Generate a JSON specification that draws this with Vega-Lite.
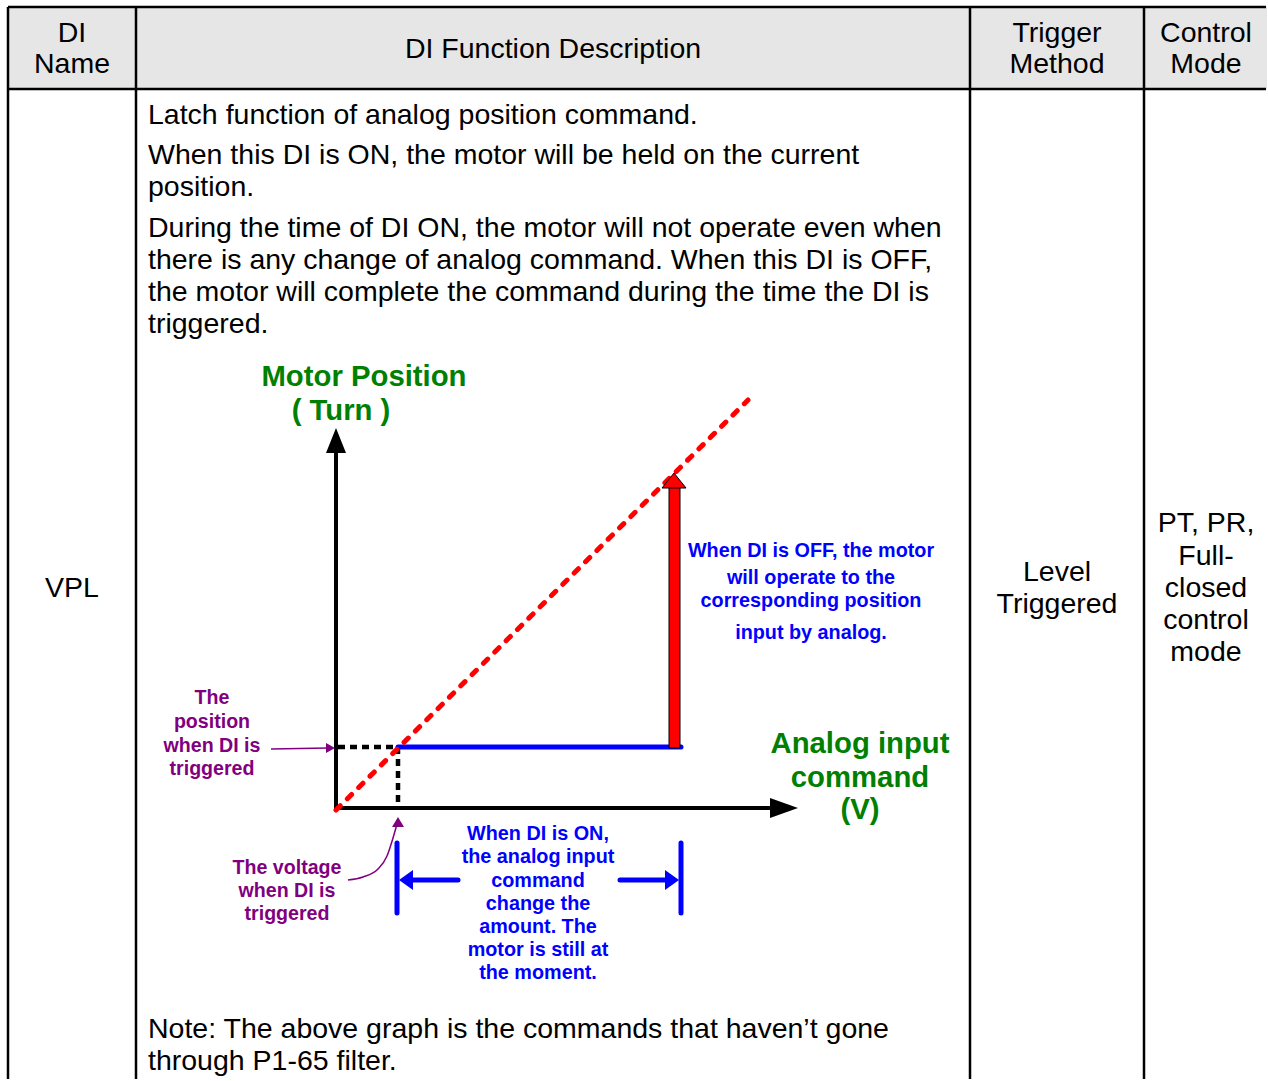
{
  "$schema": "https://vega.github.io/schema/vega-lite/v6.json",
  "width": 1268,
  "height": 1081,
  "autosize": {"type": "fit", "contains": "padding"},
  "padding": 0,
  "background": "white",
  "config": {"view": {"stroke": null}},
  "encoding": {
    "x": {"field": "x", "type": "quantitative", "scale": {"domain": [0, 1268], "nice": false, "zero": false}, "axis": null},
    "y": {"field": "y", "type": "quantitative", "scale": {"domain": [0, 1081], "nice": false, "zero": false, "reverse": true}, "axis": null}
  },
  "layer": [
    {
      "data": {"values": [{"x": 8, "y": 7, "x2": 1267, "y2": 89}]},
      "mark": {"type": "rect", "color": "#e6e6e6"},
      "encoding": {"x2": {"field": "x2"}, "y2": {"field": "y2"}}
    },
    {
      "data": {"values": [
        {"x": 8, "y": 7, "x2": 1266, "y2": 7},
        {"x": 8, "y": 89, "x2": 1266, "y2": 89},
        {"x": 8, "y": 7, "x2": 8, "y2": 1079},
        {"x": 136, "y": 7, "x2": 136, "y2": 1079},
        {"x": 970, "y": 7, "x2": 970, "y2": 1079},
        {"x": 1144, "y": 7, "x2": 1144, "y2": 1079}
      ]},
      "mark": {"type": "rule", "color": "black", "strokeWidth": 2.5},
      "encoding": {"x2": {"field": "x2"}, "y2": {"field": "y2"}}
    },
    {
      "data": {"values": [
        {"x": 148, "y": 115, "t": "Latch function of analog position command."},
        {"x": 148, "y": 155, "t": "When this DI is ON, the motor will be held on the current"},
        {"x": 148, "y": 187, "t": "position."},
        {"x": 148, "y": 228, "t": "During the time of DI ON, the motor will not operate even when"},
        {"x": 148, "y": 260, "t": "there is any change of analog command. When this DI is OFF,"},
        {"x": 148, "y": 292, "t": "the motor will complete the command during the time the DI is"},
        {"x": 148, "y": 324, "t": "triggered."},
        {"x": 148, "y": 1029, "t": "Note: The above graph is the commands that haven’t gone"},
        {"x": 148, "y": 1061, "t": "through P1-65 filter."}
      ]},
      "mark": {"type": "text", "align": "left", "baseline": "middle", "font": "Liberation Sans", "fontSize": 28.5, "color": "black"},
      "encoding": {"text": {"field": "t"}}
    },
    {
      "data": {"values": [
        {"x": 72, "y": 33, "t": "DI"},
        {"x": 72, "y": 64, "t": "Name"},
        {"x": 553, "y": 49, "t": "DI Function Description"},
        {"x": 1057, "y": 33, "t": "Trigger"},
        {"x": 1057, "y": 64, "t": "Method"},
        {"x": 1206, "y": 33, "t": "Control"},
        {"x": 1206, "y": 64, "t": "Mode"},
        {"x": 72, "y": 588, "t": "VPL"},
        {"x": 1057, "y": 572, "t": "Level"},
        {"x": 1057, "y": 604, "t": "Triggered"},
        {"x": 1206, "y": 523, "t": "PT, PR,"},
        {"x": 1206, "y": 556, "t": "Full-"},
        {"x": 1206, "y": 588, "t": "closed"},
        {"x": 1206, "y": 620, "t": "control"},
        {"x": 1206, "y": 652, "t": "mode"}
      ]},
      "mark": {"type": "text", "align": "center", "baseline": "middle", "font": "Liberation Sans", "fontSize": 28.5, "color": "black"},
      "encoding": {"text": {"field": "t"}}
    },
    {
      "data": {"values": [
        {"x": 336, "y": 452, "x2": 336, "y2": 810},
        {"x": 334, "y": 808, "x2": 772, "y2": 808}
      ]},
      "mark": {"type": "rule", "color": "black", "strokeWidth": 4},
      "encoding": {"x2": {"field": "x2"}, "y2": {"field": "y2"}}
    },
    {
      "data": {"values": [
        {"x": 338, "y": 747, "x2": 398, "y2": 747},
        {"x": 398, "y": 747, "x2": 398, "y2": 806}
      ]},
      "mark": {"type": "rule", "color": "black", "strokeWidth": 4.5, "strokeDash": [7, 5]},
      "encoding": {"x2": {"field": "x2"}, "y2": {"field": "y2"}}
    },
    {
      "data": {"values": [
        {"x": 398, "y": 747, "x2": 681, "y2": 747},
        {"x": 397, "y": 843, "x2": 397, "y2": 913},
        {"x": 681, "y": 843, "x2": 681, "y2": 913},
        {"x": 410, "y": 880, "x2": 458, "y2": 880},
        {"x": 620, "y": 880, "x2": 668, "y2": 880}
      ]},
      "mark": {"type": "rule", "color": "#0000ff", "strokeWidth": 5, "strokeCap": "round"},
      "encoding": {"x2": {"field": "x2"}, "y2": {"field": "y2"}}
    },
    {
      "data": {"values": [{"x": 336, "y": 810, "x2": 748, "y2": 400}]},
      "mark": {"type": "rule", "color": "#ff0000", "strokeWidth": 5, "strokeDash": [6, 10], "strokeCap": "round"},
      "encoding": {"x2": {"field": "x2"}, "y2": {"field": "y2"}}
    },
    {
      "data": {"values": [{"x": 669, "y": 487, "x2": 680, "y2": 748}]},
      "mark": {"type": "rect", "color": "#ff0000", "stroke": "black", "strokeWidth": 1},
      "encoding": {"x2": {"field": "x2"}, "y2": {"field": "y2"}}
    },
    {
      "data": {"values": [{"x": 271, "y": 749, "x2": 328, "y2": 748}]},
      "mark": {"type": "rule", "color": "#800080", "strokeWidth": 1.5},
      "encoding": {"x2": {"field": "x2"}, "y2": {"field": "y2"}}
    },
    {
      "data": {"values": [
        {"x": 348, "y": 880},
        {"x": 363, "y": 877},
        {"x": 378, "y": 869},
        {"x": 387, "y": 856},
        {"x": 393, "y": 838},
        {"x": 397, "y": 824}
      ]},
      "mark": {"type": "line", "color": "#800080", "strokeWidth": 1.5, "interpolate": "monotone"},
      "encoding": {}
    },
    {
      "data": {"values": [{"x": 336, "y": 428}]},
      "mark": {"type": "point", "shape": "M0,0L-10,25L10,25Z", "size": 4, "filled": true, "opacity": 1, "color": "black"},
      "encoding": {}
    },
    {
      "data": {"values": [{"x": 798, "y": 808}]},
      "mark": {"type": "point", "shape": "M0,0L-28,-10L-28,10Z", "size": 4, "filled": true, "opacity": 1, "color": "black"},
      "encoding": {}
    },
    {
      "data": {"values": [{"x": 674, "y": 473}]},
      "mark": {"type": "point", "shape": "M0,0L-12,15L12,15Z", "size": 4, "filled": true, "opacity": 1, "fill": "#ff0000", "stroke": "black", "strokeWidth": 1},
      "encoding": {}
    },
    {
      "data": {"values": [{"x": 335, "y": 748}]},
      "mark": {"type": "point", "shape": "M0,0L-9,-5L-9,5Z", "size": 4, "filled": true, "opacity": 1, "color": "#800080"},
      "encoding": {}
    },
    {
      "data": {"values": [{"x": 398, "y": 817}]},
      "mark": {"type": "point", "shape": "M0,0L-6,10L6,10Z", "size": 4, "filled": true, "opacity": 1, "color": "#800080"},
      "encoding": {}
    },
    {
      "data": {"values": [{"x": 399, "y": 880}]},
      "mark": {"type": "point", "shape": "M0,0L14,-10L14,10Z", "size": 4, "filled": true, "opacity": 1, "color": "#0000ff"},
      "encoding": {}
    },
    {
      "data": {"values": [{"x": 679, "y": 880}]},
      "mark": {"type": "point", "shape": "M0,0L-14,-10L-14,10Z", "size": 4, "filled": true, "opacity": 1, "color": "#0000ff"},
      "encoding": {}
    },
    {
      "data": {"values": [
        {"x": 364, "y": 377, "t": "Motor Position"},
        {"x": 341, "y": 411, "t": "( Turn )"},
        {"x": 860, "y": 744, "t": "Analog input"},
        {"x": 860, "y": 778, "t": "command"},
        {"x": 860, "y": 810, "t": "(V)"}
      ]},
      "mark": {"type": "text", "align": "center", "baseline": "middle", "font": "Liberation Sans", "fontWeight": "bold", "fontSize": 29.3, "color": "#008000"},
      "encoding": {"text": {"field": "t"}}
    },
    {
      "data": {"values": [
        {"x": 811, "y": 551, "t": "When DI is OFF, the motor"},
        {"x": 811, "y": 578, "t": "will operate to the"},
        {"x": 811, "y": 601, "t": "corresponding position"},
        {"x": 811, "y": 633, "t": "input by analog."},
        {"x": 538, "y": 834, "t": "When DI is ON,"},
        {"x": 538, "y": 857, "t": "the analog input"},
        {"x": 538, "y": 881, "t": "command"},
        {"x": 538, "y": 904, "t": "change the"},
        {"x": 538, "y": 927, "t": "amount. The"},
        {"x": 538, "y": 950, "t": "motor is still at"},
        {"x": 538, "y": 973, "t": "the moment."}
      ]},
      "mark": {"type": "text", "align": "center", "baseline": "middle", "font": "Liberation Sans", "fontWeight": "bold", "fontSize": 19.8, "color": "#0000ff"},
      "encoding": {"text": {"field": "t"}}
    },
    {
      "data": {"values": [
        {"x": 212, "y": 698, "t": "The"},
        {"x": 212, "y": 722, "t": "position"},
        {"x": 212, "y": 746, "t": "when DI is"},
        {"x": 212, "y": 769, "t": "triggered"},
        {"x": 287, "y": 868, "t": "The voltage"},
        {"x": 287, "y": 891, "t": "when DI is"},
        {"x": 287, "y": 914, "t": "triggered"}
      ]},
      "mark": {"type": "text", "align": "center", "baseline": "middle", "font": "Liberation Sans", "fontWeight": "bold", "fontSize": 19.6, "color": "#800080"},
      "encoding": {"text": {"field": "t"}}
    }
  ]
}
